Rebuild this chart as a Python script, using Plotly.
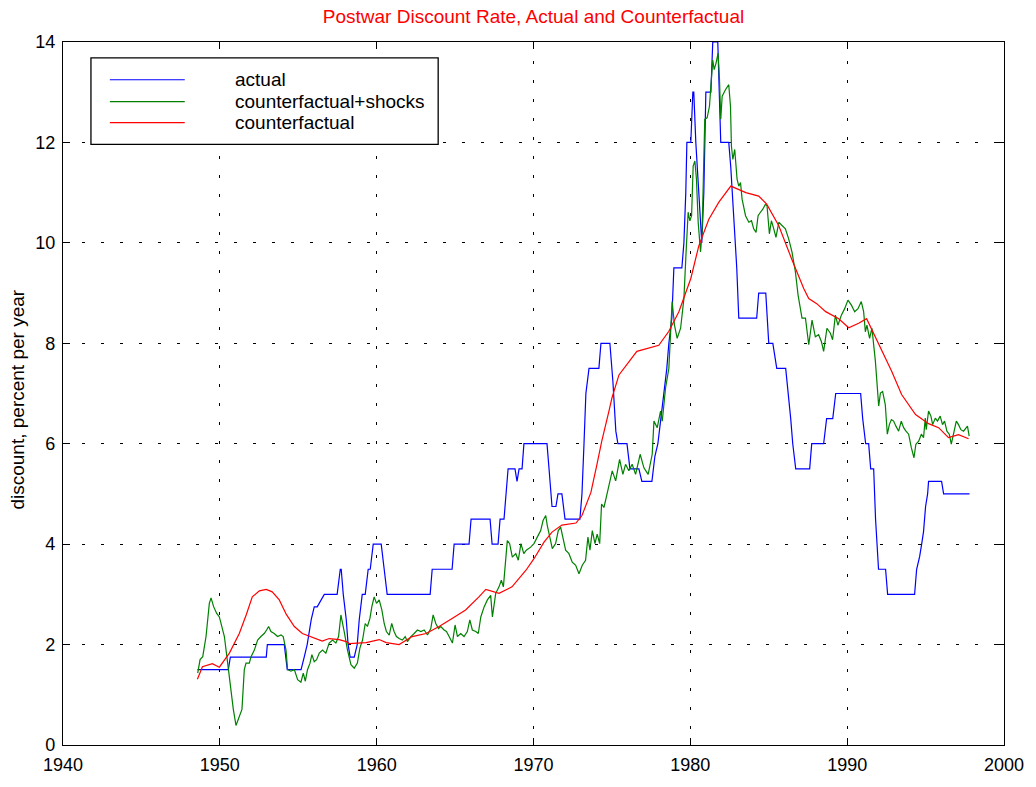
import plotly.graph_objects as go

# actual discount rate (step series)
actual_year = [1948.57, 1950.54, 1950.67, 1952.96, 1953.03, 1954.11, 1954.30, 1955.18, 1955.38, 1955.57,
               1955.83, 1956.02, 1956.21, 1956.66, 1957.48, 1957.68, 1957.74, 1957.87, 1958.06, 1958.18,
               1958.31, 1958.57, 1958.76, 1958.89, 1959.08, 1959.27, 1959.46, 1959.59, 1959.78, 1960.29,
               1960.48, 1960.67, 1963.41, 1963.54, 1964.81, 1964.94, 1965.89, 1966.02, 1967.23, 1967.36,
               1967.74, 1967.87, 1968.12, 1968.25, 1968.38, 1968.82, 1968.95, 1969.08, 1969.27, 1969.39,
               1970.86, 1970.99, 1971.18, 1971.43, 1971.56, 1971.81, 1972.01, 1972.96, 1973.09, 1973.22,
               1973.34, 1973.54, 1974.17, 1974.30, 1974.87, 1975.06, 1975.25, 1975.38, 1975.96, 1976.15,
               1976.72, 1976.91, 1977.55, 1977.74, 1977.93, 1978.12, 1978.31, 1978.50, 1978.63, 1978.82,
               1978.95, 1979.46, 1979.59, 1979.71, 1979.78, 1980.03, 1980.16, 1980.22, 1980.35, 1980.54,
               1980.73, 1980.86, 1980.99, 1981.31, 1981.43, 1981.75, 1981.94, 1982.45, 1982.58, 1982.77,
               1982.96, 1983.09, 1984.23, 1984.36, 1984.81, 1985.00, 1985.26, 1985.51, 1986.08, 1986.40,
               1986.53, 1986.72, 1987.61, 1987.74, 1988.50, 1988.69, 1989.08, 1989.27, 1990.86, 1990.99,
               1991.18, 1991.37, 1991.50, 1991.69, 1991.81, 1992.00, 1992.45, 1992.58, 1994.30, 1994.43,
               1994.62, 1994.75, 1994.87, 1995.00, 1995.13, 1995.19, 1996.02, 1996.15, 1997.80]
actual_rate = [1.5, 1.5, 1.75, 1.75, 2.0, 2.0, 1.5, 1.5, 1.75, 2.0,
               2.5, 2.75, 2.75, 3.0, 3.0, 3.5, 3.5, 3.0, 2.5, 2.0,
               1.75, 1.75, 2.0, 2.5, 3.0, 3.0, 3.5, 3.5, 4.0, 4.0,
               3.5, 3.0, 3.0, 3.5, 3.5, 4.0, 4.0, 4.5, 4.5, 4.0,
               4.0, 4.5, 4.5, 5.0, 5.5, 5.5, 5.25, 5.5, 5.5, 6.0,
               6.0, 5.5, 4.75, 4.75, 5.0, 5.0, 4.5, 4.5, 5.0, 6.0,
               7.0, 7.5, 7.5, 8.0, 8.0, 7.25, 6.25, 6.0, 6.0, 5.5,
               5.5, 5.25, 5.25, 5.75, 6.0, 6.5, 7.0, 7.5, 8.0, 8.5,
               9.5, 9.5, 10.0, 11.0, 12.0, 12.0, 13.0, 13.0, 12.0, 11.0,
               10.0, 11.0, 13.0, 13.0, 14.0, 14.0, 12.0, 12.0, 11.5, 10.5,
               9.5, 8.5, 8.5, 9.0, 9.0, 8.0, 8.0, 7.5, 7.5, 6.5,
               6.0, 5.5, 5.5, 6.0, 6.0, 6.5, 6.5, 7.0, 7.0, 6.5,
               6.0, 6.0, 5.5, 5.5, 4.5, 3.5, 3.5, 3.0, 3.0, 3.5,
               3.75, 4.0, 4.25, 4.75, 5.0, 5.25, 5.25, 5.0, 5.0]

# counterfactual + shocks
shock_year = [1948.59, 1948.74, 1948.91, 1949.12, 1949.33, 1949.44, 1949.61, 1949.80, 1949.97, 1950.08,
              1950.29, 1950.50, 1950.71, 1950.86, 1951.03, 1951.24, 1951.41, 1951.56, 1951.67, 1951.88,
              1951.99, 1952.20, 1952.41, 1952.62, 1952.83, 1952.98, 1953.11, 1953.26, 1953.47, 1953.68,
              1953.90, 1954.04, 1954.22, 1954.32, 1954.53, 1954.75, 1954.96, 1955.17, 1955.32, 1955.45,
              1955.59, 1955.75, 1955.87, 1956.02, 1956.17, 1956.34, 1956.55, 1956.76, 1956.97, 1957.19,
              1957.40, 1957.57, 1957.72, 1957.93, 1958.14, 1958.36, 1958.57, 1958.77, 1958.93, 1959.10,
              1959.27, 1959.41, 1959.57, 1959.69, 1959.84, 1959.99, 1960.16, 1960.33, 1960.48, 1960.62,
              1960.80, 1960.96, 1961.11, 1961.26, 1961.43, 1961.64, 1961.82, 1961.96, 1962.18, 1962.39,
              1962.60, 1962.82, 1963.03, 1963.24, 1963.45, 1963.60, 1963.77, 1963.94, 1964.09, 1964.30,
              1964.45, 1964.62, 1964.83, 1965.00, 1965.15, 1965.36, 1965.57, 1965.78, 1965.94, 1966.10,
              1966.32, 1966.48, 1966.64, 1966.85, 1967.06, 1967.27, 1967.38, 1967.59, 1967.80, 1967.95,
              1968.08, 1968.33, 1968.48, 1968.65, 1968.87, 1969.03, 1969.20, 1969.38, 1969.54, 1969.82,
              1970.03, 1970.24, 1970.46, 1970.61, 1970.78, 1970.88, 1971.03, 1971.20, 1971.41, 1971.58,
              1971.73, 1971.88, 1972.05, 1972.26, 1972.47, 1972.69, 1972.90, 1973.11, 1973.32, 1973.47,
              1973.60, 1973.75, 1973.92, 1974.06, 1974.22, 1974.34, 1974.49, 1974.64, 1974.81, 1975.02,
              1975.24, 1975.49, 1975.70, 1975.87, 1976.08, 1976.29, 1976.51, 1976.80, 1977.04, 1977.31,
              1977.57, 1977.68, 1977.89, 1978.10, 1978.21, 1978.42, 1978.63, 1978.84, 1978.99, 1979.16,
              1979.38, 1979.59, 1979.73, 1979.86, 1979.97, 1980.08, 1980.18, 1980.29, 1980.39, 1980.50,
              1980.65, 1980.75, 1980.92, 1981.07, 1981.22, 1981.35, 1981.43, 1981.52, 1981.64, 1981.77,
              1981.86, 1981.94, 1982.03, 1982.24, 1982.45, 1982.56, 1982.62, 1982.71, 1982.83, 1982.98,
              1983.09, 1983.20, 1983.30, 1983.52, 1983.73, 1983.90, 1984.04, 1984.19, 1984.32, 1984.47,
              1984.62, 1984.79, 1984.89, 1985.04, 1985.17, 1985.32, 1985.46, 1985.64, 1985.85, 1986.06,
              1986.27, 1986.48, 1986.70, 1986.87, 1987.12, 1987.34, 1987.55, 1987.76, 1987.97, 1988.18,
              1988.36, 1988.50, 1988.71, 1988.93, 1989.07, 1989.25, 1989.41, 1989.63, 1989.84, 1990.05,
              1990.27, 1990.48, 1990.69, 1990.90, 1991.05, 1991.16, 1991.26, 1991.43, 1991.58, 1991.80,
              1992.01, 1992.12, 1992.26, 1992.43, 1992.56, 1992.69, 1992.82, 1992.96, 1993.11, 1993.28,
              1993.45, 1993.60, 1993.75, 1993.92, 1994.09, 1994.26, 1994.38, 1994.56, 1994.73, 1994.87,
              1994.98, 1995.04, 1995.19, 1995.34, 1995.45, 1995.62, 1995.76, 1995.93, 1996.08, 1996.21,
              1996.36, 1996.51, 1996.64, 1996.78, 1996.96, 1997.10, 1997.25, 1997.42, 1997.57, 1997.67,
              1997.78]
shock_rate = [1.43, 1.70, 1.76, 2.16, 2.82, 2.93, 2.75, 2.62, 2.55, 2.42,
              2.16, 1.63, 1.04, 0.71, 0.39, 0.57, 0.71, 1.50, 1.63, 1.63,
              1.76, 1.89, 2.09, 2.16, 2.22, 2.29, 2.36, 2.26, 2.22, 2.16,
              2.19, 2.16, 1.89, 1.50, 1.47, 1.50, 1.30, 1.25, 1.43, 1.27,
              1.50, 1.63, 1.80, 1.66, 1.70, 1.83, 1.89, 1.83, 2.03, 2.09,
              2.03, 2.16, 2.59, 2.26, 1.89, 1.60, 1.53, 1.63, 1.93, 2.09,
              2.42, 2.36, 2.52, 2.75, 2.95, 2.82, 2.89, 2.69, 2.42, 2.26,
              2.19, 2.42, 2.26, 2.16, 2.12, 2.09, 2.16, 2.06, 2.16, 2.22,
              2.29, 2.26, 2.29, 2.19, 2.32, 2.59, 2.42, 2.32, 2.36, 2.29,
              2.26, 2.16, 2.03, 2.39, 2.16, 2.22, 2.16, 2.26, 2.49, 2.29,
              2.26, 2.22, 2.55, 2.75, 2.89, 2.98, 2.55, 3.02, 3.15, 3.28,
              3.15, 4.07, 4.01, 3.74, 3.81, 3.68, 4.01, 3.81, 3.88, 3.94,
              4.01, 4.14, 4.27, 4.47, 4.57, 4.37, 4.14, 3.91, 4.01, 4.27,
              4.34, 4.14, 3.88, 3.81, 3.64, 3.58, 3.41, 3.58, 3.68, 4.14,
              3.88, 4.27, 4.01, 4.20, 4.01, 4.80, 4.73, 4.93, 5.19, 5.46,
              5.26, 5.69, 5.39, 5.59, 5.46, 5.59, 5.39, 5.79, 5.52, 5.39,
              5.79, 6.45, 6.32, 6.65, 6.45, 7.11, 7.50, 8.83, 8.36, 8.10,
              8.30, 8.89, 9.82, 10.61, 10.44, 10.54, 11.53, 11.63, 11.27, 10.41,
              9.82, 10.21, 12.46, 12.49, 12.72, 13.25, 13.64, 13.45, 13.58, 13.78,
              13.25, 12.46, 12.92, 13.05, 13.15, 12.72, 11.93, 11.66, 11.86, 11.27,
              11.13, 11.20, 10.87, 10.54, 10.41, 10.44, 10.28, 10.21, 10.54, 10.61,
              10.67, 10.77, 10.74, 10.18, 10.44, 10.28, 10.11, 10.41, 10.34, 10.28,
              10.08, 9.82, 9.42, 8.96, 8.50, 8.50, 7.97, 8.46, 8.13, 8.17,
              8.03, 7.84, 8.30, 8.20, 8.07, 8.56, 8.36, 8.56, 8.69, 8.86,
              8.76, 8.63, 8.69, 8.83, 8.63, 8.23, 8.36, 8.10, 8.30, 7.64,
              6.75, 7.01, 7.04, 6.78, 6.19, 6.38, 6.48, 6.45, 6.35, 6.25,
              6.45, 6.32, 6.25, 6.19, 5.92, 5.72, 5.99, 6.05, 6.19, 6.12,
              6.51, 6.28, 6.65, 6.55, 6.38, 6.51, 6.45, 6.55, 6.38, 6.45,
              6.25, 6.19, 5.99, 6.19, 6.45, 6.38, 6.28, 6.25, 6.32, 6.35,
              6.15]

# counterfactual (smooth)
cf_year = [1948.57, 1948.89, 1949.52, 1949.97, 1950.61, 1951.24, 1951.69, 1952.07, 1952.52, 1952.96,
           1953.34, 1953.79, 1954.24, 1954.75, 1955.26, 1956.15, 1956.53, 1956.97, 1957.61, 1958.06,
           1958.25, 1958.76, 1959.33, 1960.16, 1960.61, 1961.43, 1962.26, 1963.15, 1963.98, 1964.81,
           1965.67, 1966.52, 1966.96, 1967.80, 1968.63, 1969.52, 1970.03, 1970.67, 1971.18, 1971.81,
           1972.71, 1973.09, 1973.66, 1974.04, 1974.36, 1974.81, 1975.00, 1975.45, 1976.08, 1976.59,
           1977.99, 1978.63, 1979.27, 1980.03, 1980.54, 1981.18, 1981.82, 1982.58, 1983.54, 1984.36,
           1984.87, 1985.64, 1986.46, 1987.23, 1987.55, 1988.06, 1988.63, 1989.46, 1990.10, 1990.73,
           1991.24, 1992.01, 1992.83, 1993.47, 1994.36, 1995.19, 1995.83, 1996.46, 1997.10, 1997.74]
cf_rate = [1.31, 1.56, 1.62, 1.55, 1.83, 2.22, 2.60, 2.95, 3.07, 3.10,
           3.05, 2.89, 2.60, 2.36, 2.22, 2.12, 2.07, 2.12, 2.10, 2.06,
           2.02, 2.03, 2.04, 2.10, 2.04, 2.00, 2.16, 2.22, 2.36, 2.52,
           2.69, 2.95, 3.10, 3.02, 3.15, 3.48, 3.71, 4.04, 4.24, 4.38,
           4.42, 4.57, 5.03, 5.58, 6.06, 6.65, 6.91, 7.37, 7.64, 7.84,
           7.96, 8.24, 8.63, 9.29, 9.94, 10.47, 10.81, 11.13, 11.00, 10.93,
           10.77, 10.34, 9.68, 9.09, 8.89, 8.79, 8.63, 8.49, 8.31, 8.40,
           8.49, 7.97, 7.45, 6.98, 6.58, 6.40, 6.32, 6.12, 6.18, 6.10]

series_names = ["actual", "counterfactual+shocks", "counterfactual"]
series_colors = ["#0000ff", "#008000", "#ff0000"]

FONT = "Liberation Sans, Arial, sans-serif"

fig = go.Figure()
for name, xs, ys, col in zip(series_names,
                             [actual_year, shock_year, cf_year],
                             [actual_rate, shock_rate, cf_rate],
                             series_colors):
    fig.add_trace(go.Scatter(x=xs, y=ys, mode="lines", name=name,
                             line=dict(color=col, width=1.2), showlegend=False))

axis_style = dict(showline=True, linecolor="black", linewidth=1.3, mirror="ticks",
                  ticks="inside", ticklen=7, tickcolor="black", tickwidth=1,
                  showgrid=True, gridcolor="black", gridwidth=1, griddash="3px,16px",
                  zeroline=False, ticklabelstandoff=3,
                  tickfont=dict(family=FONT, size=18, color="black"))

fig.update_layout(
    width=1036, height=787,
    margin=dict(l=63, r=30, t=42, b=38),
    paper_bgcolor="white", plot_bgcolor="white",
    font=dict(family=FONT, color="black"),
    xaxis=dict(range=[1940, 2000], tickvals=[1940, 1950, 1960, 1970, 1980, 1990, 2000], **axis_style),
    yaxis=dict(range=[0, 14], tickvals=[0, 2, 4, 6, 8, 10, 12, 14], **axis_style),
    title=dict(text="Postwar Discount Rate, Actual and Counterfactual",
               font=dict(family=FONT, size=19, color="#ff0000"),
               x=0.5, xref="paper", y=1 - 16.5 / 787, yanchor="middle"),
)

# y axis label
fig.add_annotation(text="discount, percent per year", textangle=-90, showarrow=False,
                   xref="paper", yref="paper", x=-0.0488, y=0.4915,
                   xanchor="center", yanchor="middle",
                   font=dict(family=FONT, size=19, color="black"))

# legend box drawn MATLAB-style
fig.add_shape(type="rect", xref="paper", yref="paper", x0=0.0297, x1=0.3987, y0=0.8543, y1=0.9774,
              line=dict(color="black", width=1.3), fillcolor="white", layer="above")
row_y = [0.9463, 0.9151, 0.8854]
for name, col, ry in zip(series_names, series_colors, row_y):
    fig.add_shape(type="line", xref="paper", yref="paper", x0=0.0498, x1=0.1294, y0=ry, y1=ry,
                  line=dict(color=col, width=1.2), layer="above")
    fig.add_annotation(text=name, showarrow=False, xref="paper", yref="paper", x=0.1803, y=ry,
                       xanchor="left", yanchor="middle",
                       font=dict(family=FONT, size=19, color="black"))

# drop the default page margin so the figure fills the window exactly
fig.write_html("out.html", config={"displayModeBar": False},
               post_script="document.body.style.margin = '0';")
